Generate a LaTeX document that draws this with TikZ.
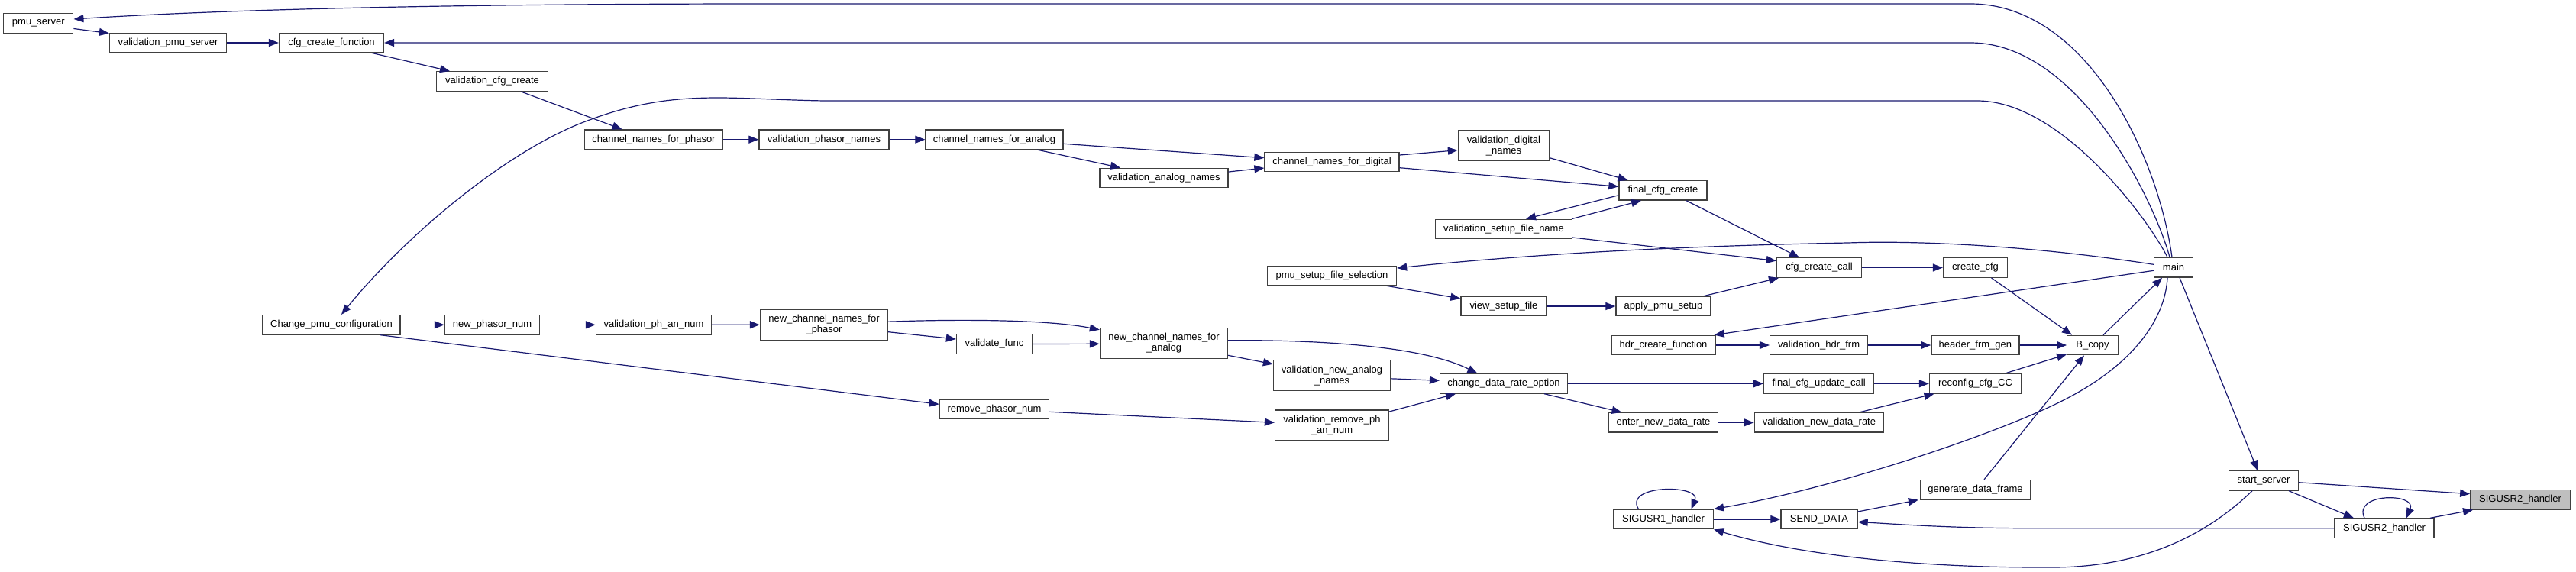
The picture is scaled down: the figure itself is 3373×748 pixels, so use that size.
\documentclass[tikz,border=0pt]{standalone}
\usepackage{fontspec}
\setmainfont{Liberation Sans}
\usetikzlibrary{arrows.meta}
\definecolor{edgec}{HTML}{191970}
\definecolor{nodeb}{HTML}{404040}
\definecolor{targetf}{HTML}{BFBFBF}
\begin{document}
\begin{tikzpicture}[x=1pt,y=-1pt,
  fn/.style={draw=nodeb, fill=white, line width=1.3pt, inner sep=0pt, minimum height=25.5pt,
             font=\fontsize{13}{14}\selectfont, align=center},
  tall/.style={minimum height=40pt},
  tgt/.style={fill=targetf},
  call/.style={draw=edgec, line width=1.2pt, -{Triangle[length=13pt,width=10pt]}}]
\fill[white] (0,0) rectangle (3373,748);
\useasboundingbox (0,0) rectangle (3373,748);

% nodes
\node[fn, minimum width=91pt]  (pmu)  at (50.3,30.5)   {pmu\_server};
\node[fn, minimum width=153pt] (vps)  at (220,56)      {validation\_pmu\_server};
\node[fn, minimum width=137pt] (ccf)  at (434,56)      {cfg\_create\_function};
\node[fn, minimum width=146pt] (vcc)  at (644.5,106.5) {validation\_cfg\_create};
\node[fn, minimum width=181pt] (cnp)  at (856,182.7)   {channel\_names\_for\_phasor};
\node[fn, minimum width=170pt] (vpn)  at (1079,182.7)  {validation\_phasor\_names};
\node[fn, minimum width=180pt] (cna)  at (1302,182.7)  {channel\_names\_for\_analog};
\node[fn, minimum width=168pt] (van)  at (1524,233)    {validation\_analog\_names};
\node[fn, minimum width=176pt] (cnd)  at (1744,212)    {channel\_names\_for\_digital};
\node[fn, minimum width=169pt] (psfs) at (1744,361)    {pmu\_setup\_file\_selection};
\node[fn, tall, minimum width=119pt] (vdn) at (1969,190.7) {validation\_digital\\\_names};
\node[fn, minimum width=115pt] (fcc)  at (2177.5,249.3) {final\_cfg\_create};
\node[fn, minimum width=179pt] (vsfn) at (1969,300)    {validation\_setup\_file\_name};
\node[fn, minimum width=111pt] (ccc)  at (2382,350.5)  {cfg\_create\_call};
\node[fn, minimum width=84pt]  (ccfg) at (2586.5,350.5) {create\_cfg};
\node[fn, minimum width=51pt]  (main) at (2846,350.3)  {main};
\node[fn, minimum width=180pt] (cpc)  at (434,425.3)   {Change\_pmu\_configuration};
\node[fn, minimum width=124pt] (npn)  at (644.5,425.3) {new\_phasor\_num};
\node[fn, minimum width=151pt] (vpan) at (856,425.3)   {validation\_ph\_an\_num};
\node[fn, tall, minimum width=167pt] (ncnp) at (1079,425.2) {new\_channel\_names\_for\\\_phasor};
\node[fn, minimum width=99pt]  (vf)   at (1302,450.5)  {validate\_func};
\node[fn, tall, minimum width=167pt] (ncna) at (1524,449.3) {new\_channel\_names\_for\\\_analog};
\node[fn, minimum width=143.5pt] (rpn) at (1302,536)   {remove\_phasor\_num};
\node[fn, tall, minimum width=153pt] (vnan) at (1744,491.8) {validation\_new\_analog\\\_names};
\node[fn, tall, minimum width=149pt] (vrpan) at (1744,557) {validation\_remove\_ph\\\_an\_num};
\node[fn, minimum width=112pt] (vsf)  at (1969,401)    {view\_setup\_file};
\node[fn, minimum width=124pt] (aps)  at (2178,401)    {apply\_pmu\_setup};
\node[fn, minimum width=136pt] (hcf)  at (2178,452)    {hdr\_create\_function};
\node[fn, minimum width=167pt] (cdro) at (1969,502.3)  {change\_data\_rate\_option};
\node[fn, minimum width=142.5pt] (endr) at (2178,553.3) {enter\_new\_data\_rate};
\node[fn, minimum width=131pt] (s1)   at (2178,680)    {SIGUSR1\_handler};
\node[fn, minimum width=128pt] (vhf)  at (2381.6,452)  {validation\_hdr\_frm};
\node[fn, minimum width=115pt] (hfg)  at (2586.4,452)  {header\_frm\_gen};
\node[fn, minimum width=66.5pt] (bcopy) at (2740,452)  {B\_copy};
\node[fn, minimum width=144pt] (fcuc) at (2381.6,502.3) {final\_cfg\_update\_call};
\node[fn, minimum width=120pt] (rcc)  at (2586.5,502.3) {reconfig\_cfg\_CC};
\node[fn, minimum width=169.5pt] (vndr) at (2382,553.3) {validation\_new\_data\_rate};
\node[fn, minimum width=144pt] (gdf)  at (2586.5,641.2) {generate\_data\_frame};
\node[fn, minimum width=100pt] (sd)   at (2382,680)    {SEND\_DATA};
\node[fn, minimum width=90.5pt] (ss)  at (2964,629.3)  {start\_server};
\node[fn, tgt, minimum width=130.5pt] (s2g) at (3300,654.3) {SIGUSR2\_handler};
\node[fn, minimum width=130pt] (s2w)  at (3122,691.7)  {SIGUSR2\_handler};

% long edges from main
\draw[call] ([xshift=-2pt]main.north) .. controls (2825,200) and (2730,5) .. (2580,5)
   -- (1000,5) .. controls (600,5) and (300,12) .. ([yshift=5.5pt]pmu.east);
\draw[call] ([xshift=-5pt]main.north) .. controls (2820,260) and (2720,56) .. (2580,56) -- (ccf.east);
\draw[call] ([xshift=-8pt]main.north) .. controls (2815,290) and (2700,132) .. (2589,132)
   -- (1080,132) .. controls (950,130) and (880,115) .. (764,160)
   .. controls (660,200) and (530,310) .. ([xshift=13pt]cpc.north);
\draw[call] ([yshift=4pt]main.west) .. controls (2650,320) and (2500,315) .. (2420,318)
   .. controls (2200,322) and (2000,333) .. ([yshift=10pt]psfs.east);
\draw[call] ([yshift=-4pt]main.west) -- ([xshift=-2pt]hcf.north east);
\draw[call] ([xshift=-8pt]main.south) .. controls (2835,420) and (2790,480) .. (2700,525)
   .. controls (2610,570) and (2400,640) .. (s1.north east);
\draw[call] ([xshift=8pt]main.south) -- ([xshift=-8pt]ss.north);
\draw[call] ([xshift=14pt]bcopy.north) -- ([xshift=-15pt]main.south);
\draw[call] ([xshift=21pt]ccfg.south) -- ([xshift=-27pt]bcopy.north);

% top chain
\draw[call] ([yshift=-7pt]pmu.east) -- ([yshift=-1pt]vps.north west);
\draw[call] (vps) -- (ccf);
\draw[call] ([xshift=53pt]ccf.south) -- ([xshift=-55.5pt]vcc.north);
\draw[call] ([xshift=37.5pt]vcc.south) -- ([xshift=-41.5pt]cnp.north);
\draw[call] (cnp) -- (vpn);
\draw[call] (vpn) -- (cna);
\draw[call] ([yshift=-5.6pt]cna.east) -- ([yshift=5.3pt]cnd.west);
\draw[call] ([xshift=56pt]cna.south) -- ([xshift=-57pt]van.north);
\draw[call] ([yshift=8pt]van.east) -- ([yshift=-8pt]cnd.west);
\draw[call] ([yshift=9pt]cnd.east) -- ([yshift=-6pt]vdn.west);
\draw[call] ([yshift=-7.7pt]cnd.east) -- ([yshift=5pt]fcc.west);
\draw[call] ([yshift=-16pt]vdn.east) -- ([xshift=-46pt]fcc.north);
\draw[call] ([yshift=-6.4pt]fcc.west) -- ([xshift=29pt]vsfn.north);
\draw[call] ([xshift=89pt]vsfn.north) -- ([xshift=-28.5pt]fcc.south);
\draw[call] ([xshift=30.5pt]fcc.south) -- ([xshift=-26pt]ccc.north);
\draw[call] ([yshift=-11pt]vsfn.east) -- ([yshift=9pt]ccc.west);
\draw[call] ([xshift=53pt]aps.north) -- ([xshift=-53pt]ccc.south);
\draw[call] (ccc) -- (ccfg);
\draw[call] ([xshift=72pt]psfs.south) -- ([yshift=10pt]vsf.west);
\draw[call] (vsf) -- (aps);

% lower chain
\draw[call] (cpc) -- (npn);
\draw[call] ([xshift=64pt]cpc.south) -- ([yshift=6.7pt]rpn.west);
\draw[call] (npn) -- (vpan);
\draw[call] (vpan) -- (ncnp);
\draw[call] ([yshift=4pt]ncnp.east) .. controls (1250,418) and (1370,418) .. ([yshift=17.5pt]ncna.west);
\draw[call] ([yshift=-9.5pt]ncnp.east) -- ([yshift=6.5pt]vf.west);
\draw[call] (vf.east) -- ([yshift=-1pt]ncna.west);
\draw[call] ([yshift=-16pt]ncna.east) -- ([yshift=15pt]vnan.west);
\draw[call] ([yshift=3.6pt]ncna.east) .. controls (1720,445) and (1860,452) .. ([xshift=-34.5pt]cdro.north);
\draw[call] ([yshift=-4pt]vnan.east) -- ([yshift=4pt]cdro.west);
\draw[call] ([yshift=18pt]vrpan.east) -- ([xshift=-63pt]cdro.south);
\draw[call] ([yshift=-3.3pt]rpn.east) -- ([yshift=3.7pt]vrpan.west);
\draw[call] (cdro) -- (fcuc);
\draw[call] ([xshift=53pt]cdro.south) -- ([xshift=-54.5pt]endr.north);
\draw[call] (endr) -- (vndr);
\draw[call] (fcuc) -- (rcc);
\draw[call] ([xshift=52.5pt]vndr.north) -- ([xshift=-54pt]rcc.south);
\draw[call] (hcf) -- (vhf);
\draw[call] (vhf) -- (hfg);
\draw[call] (hfg) -- (bcopy);
\draw[call] ([xshift=39pt]rcc.north) -- ([yshift=-12pt]bcopy.west);
\draw[call] ([xshift=11.5pt]gdf.north) -- ([xshift=-11pt]bcopy.south);
\draw[call] ([yshift=10pt]sd.east) -- ([xshift=-2pt]gdf.south west);
\draw[call] (s1) -- (sd);
\draw[call] ([xshift=-32.5pt]s1.north) .. controls (2125,634) and (2228,634) .. ([xshift=36.5pt]s1.north);
\draw[call] (s2w.west) -- (2650,691.7) .. controls (2550,691.5) and (2480,686) .. ([yshift=-3.5pt]sd.east);
\draw[call] ([xshift=-15pt]ss.south) .. controls (2900,690) and (2820,742) .. (2690,743)
   .. controls (2500,744) and (2350,725) .. (s1.south east);
\draw[call] ([yshift=-2.4pt]ss.east) -- ([yshift=7.6pt]s2g.west);
\draw[call] ([xshift=33pt]ss.south) -- ([xshift=-40pt]s2w.north);
\draw[call] ([xshift=60pt]s2w.north) -- ([xshift=-62pt]s2g.south);
\draw[call] ([xshift=-26pt]s2w.north) .. controls (3080,645) and (3165,645) .. ([xshift=29pt]s2w.north);
\end{tikzpicture}
\end{document}
